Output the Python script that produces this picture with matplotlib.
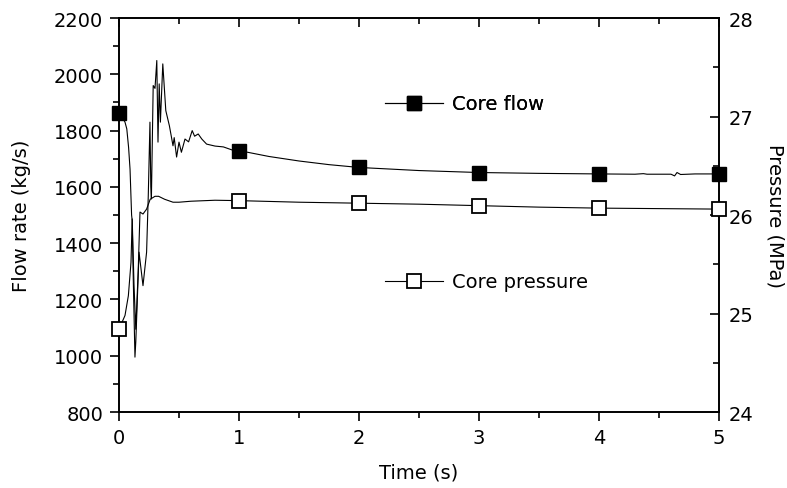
import matplotlib
matplotlib.use("Agg")
import matplotlib.pyplot as plt
import numpy as np
from matplotlib.lines import Line2D
from matplotlib.ticker import MultipleLocator

plt.rcParams['font.family'] = ['DejaVu Sans']

# core flow (kg/s)
t_flow = [0, 0.03, 0.05, 0.065, 0.08, 0.092, 0.105, 0.11, 0.12, 0.133, 0.14,
          0.167, 0.2, 0.23, 0.244, 0.25, 0.258, 0.265, 0.27, 0.285, 0.3, 0.315,
          0.325, 0.335, 0.345, 0.365, 0.39, 0.42, 0.44, 0.45, 0.46, 0.48, 0.5,
          0.52, 0.55, 0.58, 0.61, 0.63, 0.66, 0.69, 0.73, 0.8, 0.87, 0.95, 1.0,
          1.25, 1.5, 1.75, 2.0, 2.5, 3.0, 3.5, 4.0, 4.3, 4.37, 4.4, 4.6, 4.63,
          4.65, 4.68, 4.8, 5.0]
flow = [1862, 1845, 1830, 1806, 1740, 1663, 1500, 1480, 1250, 995, 1050,
        1368, 1249, 1368, 1569, 1680, 1830, 1600, 1557, 1960, 1950, 2049,
        1759, 1966, 1830, 2037, 1871, 1817, 1770, 1746, 1775, 1706, 1759,
        1723, 1770, 1760, 1800, 1780, 1788, 1770, 1752, 1745, 1742, 1730, 1729,
        1708, 1692, 1679, 1669, 1658, 1651, 1648, 1646, 1645, 1647, 1645, 1645, 1639,
        1651, 1644, 1646, 1646]

# core pressure (MPa)
t_pres = [0, 0.05, 0.078, 0.1, 0.11, 0.125, 0.14, 0.16, 0.175, 0.2, 0.23,
          0.26, 0.3, 0.33, 0.38, 0.45, 0.5, 0.6, 0.8, 1.0, 1.5, 2.0, 2.5,
          3.0, 3.5, 4.0, 4.5, 5.0]
pres = [24.84, 24.98, 25.18, 25.52, 25.96, 25.29, 24.84, 25.43, 26.03, 26.01,
        26.06, 26.16, 26.19, 26.19, 26.16, 26.13, 26.13, 26.14, 26.15, 26.146,
        26.13, 26.12, 26.11, 26.095, 26.08, 26.07, 26.065, 26.06]

marker_times = [0, 1, 2, 3, 4, 5]

fig = plt.figure(figsize=(7.87, 4.89), dpi=100)
ax = fig.add_axes([0.1512, 0.1554, 0.7624, 0.8057])
ax2 = ax.twinx()

flow_marks = [t_flow.index(m) for m in marker_times]
pres_marks = [t_pres.index(m) for m in marker_times]

ax.plot(t_flow, flow, color='black', lw=0.8, marker='s', markersize=10,
        markerfacecolor='black', markeredgecolor='black', markevery=flow_marks,
        clip_on=False, zorder=3)
ax2.plot(t_pres, pres, color='black', lw=0.8, marker='s', markersize=10,
         markerfacecolor='white', markeredgecolor='black', markeredgewidth=1.3,
         markevery=pres_marks, clip_on=False, zorder=3)

ax.set_xlim(0, 5)
ax.set_ylim(800, 2200)
ax2.set_ylim(24, 28)

ax.xaxis.set_major_locator(MultipleLocator(1))
ax.xaxis.set_minor_locator(MultipleLocator(0.5))
ax.yaxis.set_major_locator(MultipleLocator(200))
ax.yaxis.set_minor_locator(MultipleLocator(100))
ax2.yaxis.set_major_locator(MultipleLocator(1))
ax2.yaxis.set_minor_locator(MultipleLocator(0.5))

for a in (ax, ax2):
    for s in a.spines.values():
        s.set_linewidth(1.2)

ax.tick_params(axis='both', which='major', direction='out', length=6.5, width=1.2,
               labelsize=14, pad=5)
ax.tick_params(axis='both', which='minor', direction='out', length=4, width=1.2)
ax.tick_params(axis='x', which='both', top=True)
ax2.tick_params(axis='y', which='major', direction='in', length=6.5, width=1.2,
                labelsize=14, pad=7)
ax2.tick_params(axis='y', which='minor', direction='in', length=4, width=1.2)

# top ticks point inward
for tk in ax.xaxis.get_major_ticks() + ax.xaxis.get_minor_ticks():
    tk.tick2line.set_marker(3)  # TICKDOWN

ax.set_xlabel('Time (s)', fontsize=14)
ax.set_ylabel('Flow rate (kg/s)', fontsize=14)
ax2.set_ylabel('Pressure (MPa)', fontsize=14, rotation=270, va='center')
ax.xaxis.set_label_coords(0.5, -0.128)
ax.yaxis.set_label_coords(-0.146, 0.5)
ax2.yaxis.set_label_coords(1.093, 0.5)

h_flow = Line2D([], [], color='black', lw=0.8, marker='s', markersize=10,
                markerfacecolor='black', markeredgecolor='black')
h_pres = Line2D([], [], color='black', lw=0.8, marker='s', markersize=10,
                markerfacecolor='white', markeredgecolor='black', markeredgewidth=1.3)

leg1 = fig.legend([h_flow], ['Core flow'], loc='center left',
                  bbox_to_anchor=(385 / 787, 1 - 105 / 489), frameon=False,
                  fontsize=14, handlelength=3.0, handletextpad=0.45,
                  borderaxespad=0, borderpad=0)
fig.add_artist(leg1)
fig.legend([h_pres], ['Core pressure'], loc='center left',
           bbox_to_anchor=(385 / 787, 1 - 283 / 489), frameon=False,
           fontsize=14, handlelength=3.0, handletextpad=0.45,
           borderaxespad=0, borderpad=0)

fig.savefig('out.png', dpi=100)
